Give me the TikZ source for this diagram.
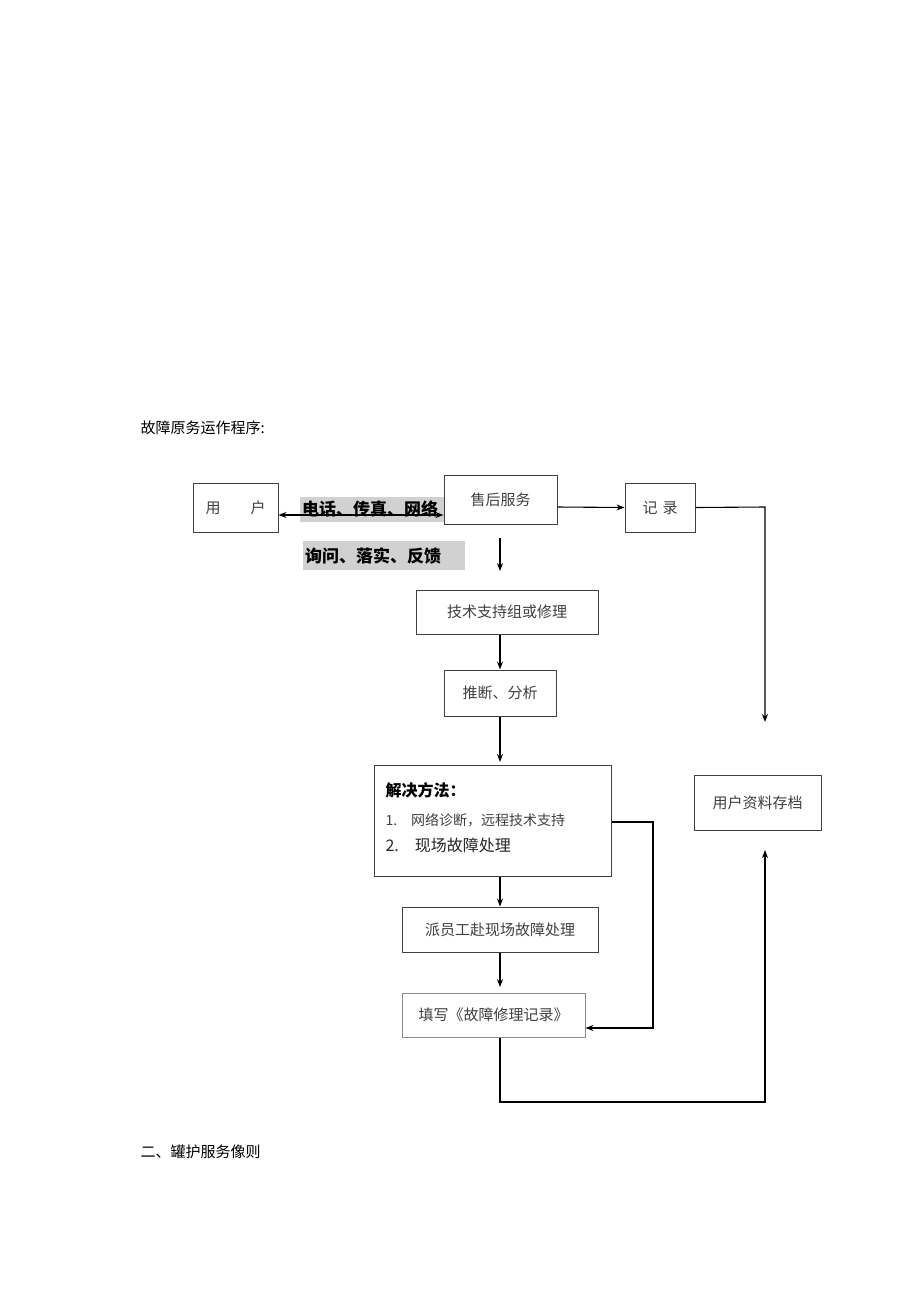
\documentclass[tikz,border=0pt]{standalone}
\usepackage{fontspec}
\setmainfont{Noto Sans CJK SC}
\newfontfamily\cjkb[BoldFont={Noto Sans CJK SC Bold}]{Noto Sans CJK SC}
\usetikzlibrary{arrows.meta}
\begin{document}
\begin{tikzpicture}[x=1pt,y=-1pt,
  bx/.style={draw=black!75,line width=1pt,fill=white,minimum height=46pt,font=\fontsize{15}{18}\selectfont,text=black!75},
  ar/.style={-{Stealth[length=8pt,width=6pt]},line width=1.1pt},
  ln/.style={line width=1.1pt}]
\useasboundingbox (0,0) rectangle (920,1301);
\node[anchor=west,font=\fontsize{15}{18}\selectfont] (h1) at (137,428) {故障原务运作程序:};
\node[anchor=west,font=\fontsize{15}{18}\selectfont] (h2) at (137,1152) {二、罐护服务像则};
% gray labels
\fill[black!18] (300,497) rectangle (445,522);
\node[anchor=west,font=\bfseries\fontsize{17}{20}\selectfont,inner sep=0] (l1) at (302,509) {电话、传真、网络};
\fill[black!18] (303,541) rectangle (465,570);
\node[anchor=west,font=\bfseries\fontsize{17}{20}\selectfont,inner sep=0] (l2) at (305,556) {询问、落实、反馈};
\node[bx,minimum width=85pt,minimum height=49pt] (user) at (235.5,507.5) {用\hspace{2em}户};
\node[bx,minimum width=113pt,minimum height=49pt] (svc) at (500.5,499.5) {售后服务};
\node[bx,minimum width=70pt,minimum height=49pt] (rec) at (660,507.5) {记\,\,录};
\node[bx,minimum width=182pt,minimum height=44pt] (tech) at (507,612) {技术支持组或修理};
\node[bx,minimum width=112pt] (ana) at (500,693) {推断、分析};
\node[bx,minimum width=237pt,minimum height=111pt] (sol) at (492.5,820.5) {};
\node[anchor=west,font=\bfseries\fontsize{16}{19}\selectfont] (s0) at (382,790) {解决方法：};
\node[anchor=west,font=\fontsize{14}{17}\selectfont,text=black!75] (s1) at (382,820) {1.\quad 网络诊断，远程技术支持};
\node[anchor=west,font=\fontsize{16}{19}\selectfont,text=black!85] (s2) at (382,845) {2.\quad 现场故障处理};
\node[bx,minimum width=196pt,minimum height=45pt] (disp) at (500,929.5) {派员工赴现场故障处理};
\node[bx,draw=black!45,minimum width=183pt,minimum height=44pt] (fill) at (493.5,1015) {填写《故障修理记录》};
\node[bx,minimum width=127pt,minimum height=55pt] (arch) at (757.5,802.5) {用户资料存档};
\coordinate (c1) at (765,722);
\coordinate (c2) at (765,850);
\draw[{Stealth[length=8pt,width=6pt]}-{Stealth[length=8pt,width=6pt]},line width=1.1pt] (user.east |- 0,515) -- (svc.west |- 0,515);
\draw[ar] (svc.east |- 0,507) -- (rec.west);
\draw[ar] (rec.east) -- (765,507) -- (c1);
\draw[ar] (500,538) -- (500,571);
\draw[ar] (tech.south -| 500,0) -- (ana.north);
\draw[ar] (ana.south) -- (500,762);
\draw[ar] (sol.south -| 500,0) -- (disp.north);
\draw[ar] (disp.south) -- (500,987);
\draw[ar] (sol.east |- 0,822) -- (653,822) -- (653,1028) -- (fill.east |- 0,1028);
\draw[ar] (fill.south -| 500,0) -- (500,1102) -- (765,1102) -- (c2);
\end{tikzpicture}
\end{document}
